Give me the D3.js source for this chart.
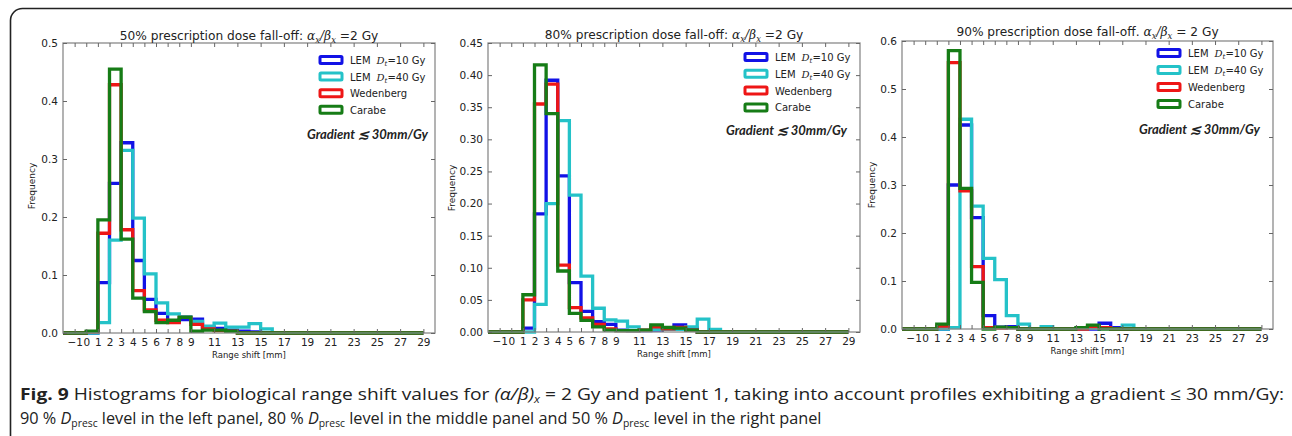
<!DOCTYPE html>
<html>
<head>
<meta charset="utf-8">
<script src="https://cdn.jsdelivr.net/npm/d3@7"></script>
<style>
  body { margin: 0; background: #fff; }
  svg text { fill: #222; }
</style>
</head>
<body>
<svg id="fig" width="1292" height="436"></svg>
<script>
// histogram bins are 1 mm wide, lower edges below; outside them the count is zero
const binLo = [0, 1, 2, 3, 4, 5, 6, 7, 8, 9, 10, 11, 12, 13, 14, 15, 16, 17];
const histFrom = -2, histTo = 29;

// 50% fall-off (left panel)
const p50Lem10 = [0.000, 0.087, 0.258, 0.328, 0.125, 0.058, 0.034, 0.020, 0.023, 0.024, 0.010, 0.008, 0.005, 0.003, 0.002, 0, 0, 0];
const p50Lem40 = [0.000, 0.018, 0.160, 0.315, 0.198, 0.102, 0.052, 0.033, 0.028, 0.020, 0.012, 0.017, 0.010, 0.010, 0.016, 0.007, 0, 0];
const p50Wed   = [0.002, 0.172, 0.428, 0.178, 0.073, 0.040, 0.022, 0.018, 0.027, 0.015, 0.007, 0.004, 0.003, 0, 0, 0, 0, 0];
const p50Car   = [0.003, 0.195, 0.455, 0.162, 0.060, 0.037, 0.018, 0.022, 0.027, 0.003, 0.005, 0.005, 0.003, 0, 0, 0, 0, 0];

// 80% fall-off (middle panel)
const p80Lem10 = [0, 0.006, 0.184, 0.392, 0.243, 0.077, 0.032, 0.016, 0.012, 0.003, 0.002, 0.002, 0.003, 0.005, 0.011, 0.006, 0, 0];
const p80Lem40 = [0, 0, 0.043, 0.200, 0.329, 0.213, 0.087, 0.037, 0.019, 0.017, 0.008, 0.003, 0.004, 0.004, 0.004, 0.008, 0.020, 0.004];
const p80Wed   = [0, 0.050, 0.355, 0.386, 0.104, 0.038, 0.022, 0.012, 0.005, 0.002, 0.002, 0.003, 0.008, 0.005, 0.007, 0.003, 0, 0];
const p80Car   = [0, 0.058, 0.416, 0.340, 0.095, 0.029, 0.018, 0.008, 0.003, 0.002, 0.002, 0.003, 0.011, 0.007, 0.006, 0.003, 0, 0];

// 90% fall-off (right panel)
const p90Lem10 = [0, 0, 0.300, 0.425, 0.232, 0.028, 0.004, 0.005, 0, 0, 0, 0, 0, 0, 0, 0.012, 0.003, 0];
const p90Lem40 = [0, 0, 0.003, 0.437, 0.256, 0.147, 0.103, 0.028, 0.010, 0, 0.005, 0, 0, 0, 0.002, 0.003, 0, 0.008];
const p90Wed   = [0, 0.006, 0.555, 0.288, 0.130, 0.003, 0.002, 0.003, 0, 0, 0, 0, 0, 0, 0.005, 0.003, 0, 0];
const p90Car   = [0, 0.010, 0.580, 0.293, 0.097, 0, 0.004, 0.003, 0, 0, 0, 0, 0, 0.003, 0.008, 0, 0, 0];

const xTickVals = [-1, 0, 1, 2, 3, 4, 5, 6, 7, 8, 9, 11, 13, 15, 17, 19, 21, 23, 25, 27, 29];
const yTicks50 = [0, 0.1, 0.2, 0.3, 0.4, 0.5];
const yTicks80 = [0, 0.05, 0.10, 0.15, 0.20, 0.25, 0.30, 0.35, 0.40, 0.45];
const yTicks90 = [0, 0.1, 0.2, 0.3, 0.4, 0.5, 0.6];

const seriesLabels = ["LEM", "LEM", "Wedenberg", "Carabe"];
const seriesDt = ["10", "40", null, null];
const seriesColors = ["#1212e6", "#24c2c8", "#ee1616", "#167c16"];

const titleLead = ["50% prescription dose fall-off:", "80% prescription dose fall-off:", "90% prescription dose fall-off."];
const titleTail = ["=2 Gy", "=2 Gy", "= 2 Gy"];

// layout for each panel (pixel positions only)
const panels = [
  { l: 63, r: 435, t: 43, b: 333, yMax: 0.5, ticks: yTicks50, fmt: ".1f", data: [p50Lem10, p50Lem40, p50Wed, p50Car],
    titleY: 40, legY: 60, legDy: 16.6, gradY: 139, gradR: 428, yLabX: 35, yLabY: 186 },
  { l: 488, r: 860, t: 43, b: 332, yMax: 0.45, ticks: yTicks80, fmt: ".2f", data: [p80Lem10, p80Lem40, p80Wed, p80Car],
    titleY: 39, legY: 57, legDy: 16.8, gradY: 135, gradR: 847, yLabX: 455, yLabY: 188 },
  { l: 902, r: 1273, t: 41, b: 329, yMax: 0.6, ticks: yTicks90, fmt: ".1f", data: [p90Lem10, p90Lem40, p90Wed, p90Car],
    titleY: 36, legY: 53, legDy: 17, gradY: 134, gradR: 1260, yLabX: 875, yLabY: 185 }
];

const svg = d3.select("#fig");
svg.append("rect").attr("width", 1292).attr("height", 436).attr("fill", "#fff");

// outer figure border (runs off the right/bottom edge)
svg.append("rect")
  .attr("x", 10.5).attr("y", 8.5).attr("width", 1300).attr("height", 440)
  .attr("rx", 12).attr("fill", "none").attr("stroke", "#222").attr("stroke-width", 1.6);

const axisFont = "DejaVu Sans, sans-serif";
const mathFont = "DejaVu Serif, serif";

function stepPoints(vals) {
  const pts = [[histFrom, 0], [binLo[0], 0]];
  binLo.forEach((lo, i) => {
    pts.push([lo, vals[i]]);
    pts.push([lo + 1, vals[i]]);
  });
  pts.push([binLo[binLo.length - 1] + 1, 0]);
  pts.push([histTo, 0]);
  return pts;
}

panels.forEach((p, pi) => {
  const x = d3.scaleLinear().domain([-2, 30]).range([p.l, p.r]);
  const y = d3.scaleLinear().domain([0, p.yMax]).range([p.b, p.t]);
  const g = svg.append("g");

  // histogram outlines
  const line = d3.line().x(d => x(d[0])).y(d => y(d[1]));
  p.data.forEach((vals, si) => {
    g.append("path")
      .attr("d", line(stepPoints(vals)))
      .attr("fill", "none")
      .attr("stroke", seriesColors[si])
      .attr("stroke-width", 3.3)
      .attr("stroke-linejoin", "miter");
  });

  // frame
  g.append("rect")
    .attr("x", p.l).attr("y", p.t).attr("width", p.r - p.l).attr("height", p.b - p.t)
    .attr("fill", "none").attr("stroke", "#8a8a8a").attr("stroke-width", 1.3);

  const styleAxis = sel => {
    sel.select(".domain").remove();
    sel.selectAll(".tick line").attr("stroke", "#666");
    sel.selectAll("text").attr("font-family", axisFont).attr("font-size", 10.5).attr("fill", "#2a2a2a");
  };

  g.append("g").attr("transform", `translate(0,${p.b})`)
    .call(d3.axisBottom(x).tickValues(xTickVals).tickSize(-4).tickPadding(6))
    .call(styleAxis);
  g.append("g").attr("transform", `translate(0,${p.t})`)
    .call(d3.axisTop(x).tickValues(xTickVals).tickSize(-4).tickFormat(""))
    .call(styleAxis);
  g.append("g").attr("transform", `translate(${p.l},0)`)
    .call(d3.axisLeft(y).tickValues(p.ticks).tickSize(-4).tickPadding(5).tickFormat(d3.format(p.fmt)))
    .call(styleAxis);
  g.append("g").attr("transform", `translate(${p.r},0)`)
    .call(d3.axisRight(y).tickValues(p.ticks).tickSize(-4).tickFormat(""))
    .call(styleAxis);

  // axis labels
  g.append("text")
    .attr("x", (p.l + p.r) / 2).attr("y", p.b + 25)
    .attr("text-anchor", "middle").attr("font-family", axisFont).attr("font-size", 8.5)
    .text("Range shift [mm]");
  g.append("text")
    .attr("transform", `translate(${p.yLabX},${p.yLabY}) rotate(-90)`)
    .attr("text-anchor", "middle").attr("font-family", axisFont).attr("font-size", 9)
    .text("Frequency");

  // title with alpha_x / beta_x
  const tt = g.append("text")
    .attr("x", (p.l + p.r) / 2).attr("y", p.titleY)
    .attr("text-anchor", "middle").attr("font-family", axisFont).attr("font-size", 12.2);
  tt.append("tspan").text(titleLead[pi] + "  ");
  tt.append("tspan").attr("font-family", mathFont).attr("font-style", "italic").text("α");
  tt.append("tspan").attr("font-family", mathFont).attr("font-style", "italic").attr("font-size", 8.5).attr("dy", 3).text("x");
  tt.append("tspan").attr("font-family", mathFont).attr("font-style", "italic").attr("dy", -3).text("/β");
  tt.append("tspan").attr("font-family", mathFont).attr("font-style", "italic").attr("font-size", 8.5).attr("dy", 3).text("x");
  tt.append("tspan").attr("dy", -3).text(" " + titleTail[pi]);

  // legend
  const lx = p.r - 115;
  seriesLabels.forEach((lab, si) => {
    const ly = p.legY + si * p.legDy;
    g.append("rect")
      .attr("x", lx).attr("y", ly - 3.5).attr("width", 22).attr("height", 7).attr("rx", 1)
      .attr("fill", "#fff").attr("stroke", seriesColors[si]).attr("stroke-width", 3);
    const lt = g.append("text")
      .attr("x", lx + 30).attr("y", ly + 4)
      .attr("font-family", axisFont).attr("font-size", 10);
    lt.append("tspan").text(lab);
    if (seriesDt[si]) {
      lt.append("tspan").attr("font-family", mathFont).attr("font-style", "italic").attr("dx", 6).text("D");
      lt.append("tspan").attr("font-family", mathFont).attr("font-style", "italic").attr("font-size", 7).attr("dy", 2).text("t");
      lt.append("tspan").attr("dy", -2).text("=" + seriesDt[si] + " Gy");
    }
  });

  g.append("text")
    .attr("x", p.gradR).attr("y", p.gradY)
    .attr("text-anchor", "end").attr("font-family", "Lato, sans-serif")
    .attr("font-weight", "bold").attr("font-style", "italic").attr("font-size", 13)
    .text("Gradient ≲ 30mm/Gy");
});

// caption, squeezed horizontally to the width of the printed figure
const capFont = "Open Sans, sans-serif";
function fitLine(sel, x0, target) {
  const w = sel.node().getComputedTextLength();
  sel.attr("transform", `translate(${x0},0) scale(${target / w},1)`);
}

const c1 = svg.append("text").attr("y", 400).attr("font-family", capFont).attr("font-size", 16.5);
c1.append("tspan").attr("font-weight", "bold").text("Fig. 9");
c1.append("tspan").text(" Histograms for biological range shift values for ");
c1.append("tspan").attr("font-style", "italic").text("(α/β)");
c1.append("tspan").attr("font-style", "italic").attr("font-size", 10.5).attr("dy", 3).text("x");
c1.append("tspan").attr("dy", -3).text(" = 2 Gy and patient 1, taking into account profiles exhibiting a gradient ≤ 30 mm/Gy:");
fitLine(c1, 20, 1265);

const c2 = svg.append("text").attr("y", 424).attr("font-family", capFont).attr("font-size", 16.5);
const presc = [["90 % ", " level in the left panel, "], ["80 % ", " level in the middle panel and "], ["50 % ", " level in the right panel"]];
presc.forEach(([a, b]) => {
  c2.append("tspan").text(a);
  c2.append("tspan").attr("font-style", "italic").text("D");
  c2.append("tspan").attr("font-size", 10.5).attr("dy", 3).text("presc");
  c2.append("tspan").attr("dy", -3).text(b);
});
fitLine(c2, 20, 802);
</script>
</body>
</html>
